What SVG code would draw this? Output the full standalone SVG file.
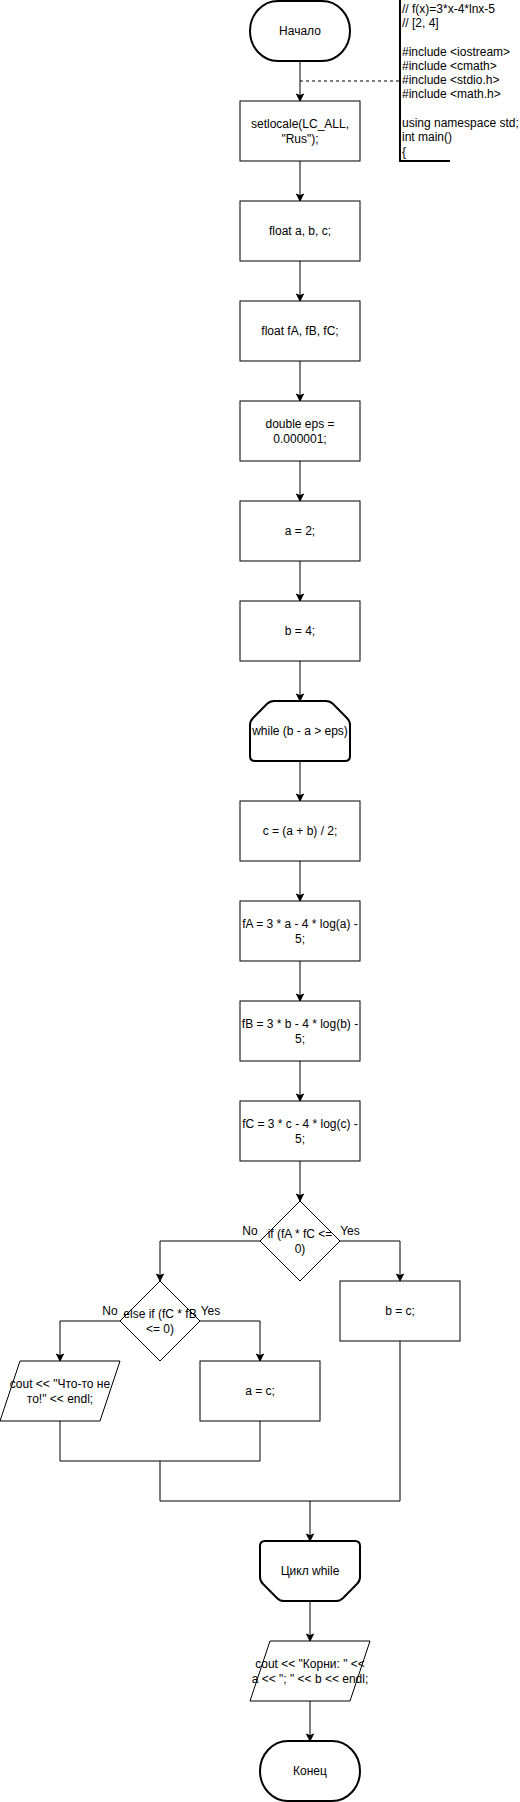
<svg xmlns="http://www.w3.org/2000/svg" width="520" height="1802" viewBox="0 0 520 1802">
<defs>
<style>
.s{fill:#fff;stroke:#000;stroke-width:1}
.t{fill:#fff;stroke:#000;stroke-width:2}
.e{fill:none;stroke:#000;stroke-width:1}
text{font-family:"Liberation Sans",Arial,sans-serif;font-size:12px;fill:#000}
.c{text-anchor:middle}
</style>
<marker id="arr" viewBox="-8 -5 10 10" markerWidth="10" markerHeight="10" refX="0" refY="0" orient="auto" markerUnits="userSpaceOnUse">
<path d="M-7,-3.5 L0,0 L-7,3.5 L-5.3,0 Z" fill="#000" stroke="#000" stroke-width="1"/>
</marker>
</defs>
<rect width="520" height="1802" fill="#fff"/>
<g id="connectors">
<path class="e" d="M300,61 V101" marker-end="url(#arr)"/>
<path class="e" d="M300,81 H399" stroke-dasharray="3 3"/>
<path class="e" d="M300,161 V201" marker-end="url(#arr)"/>
<path class="e" d="M300,261 V301" marker-end="url(#arr)"/>
<path class="e" d="M300,361 V401" marker-end="url(#arr)"/>
<path class="e" d="M300,461 V501" marker-end="url(#arr)"/>
<path class="e" d="M300,561 V601" marker-end="url(#arr)"/>
<path class="e" d="M300,661 V701" marker-end="url(#arr)"/>
<path class="e" d="M300,761 V801" marker-end="url(#arr)"/>
<path class="e" d="M300,861 V901" marker-end="url(#arr)"/>
<path class="e" d="M300,961 V1001" marker-end="url(#arr)"/>
<path class="e" d="M300,1061 V1101" marker-end="url(#arr)"/>
<path class="e" d="M300,1161 V1201" marker-end="url(#arr)"/>
<path class="e" d="M260,1241 H160 V1281" marker-end="url(#arr)"/>
<path class="e" d="M340,1241 H400 V1281" marker-end="url(#arr)"/>
<path class="e" d="M120,1321 H60 V1361" marker-end="url(#arr)"/>
<path class="e" d="M200,1321 H260 V1361" marker-end="url(#arr)"/>
<path class="e" d="M60,1421 V1461 H260 V1421"/>
<path class="e" d="M160,1461 V1501 H400 V1341"/>
<path class="e" d="M310,1501 V1541" marker-end="url(#arr)"/>
<path class="e" d="M310,1601 V1641" marker-end="url(#arr)"/>
<path class="e" d="M310,1701 V1741" marker-end="url(#arr)"/>
<text class="c" x="250" y="1235.3">No</text>
<text class="c" x="350" y="1235.3">Yes</text>
<text class="c" x="110" y="1315.3">No</text>
<text class="c" x="210.5" y="1315.3">Yes</text>
</g>
<g id="note">
<path d="M450,161 H400 V-2" fill="none" stroke="#000" stroke-width="2"/>
<text x="402" y="12.6">// f(x)=3*x-4*lnx-5</text>
<text x="402" y="26.9">// [2, 4]</text>
<text x="402" y="55.5">#include &lt;iostream&gt;</text>
<text x="402" y="69.8">#include &lt;cmath&gt;</text>
<text x="402" y="84.1">#include &lt;stdio.h&gt;</text>
<text x="402" y="98.4">#include &lt;math.h&gt;</text>
<text x="402" y="127">using namespace std;</text>
<text x="402" y="141.3">int main()</text>
<text x="402" y="155.6">{</text>
</g>
<g id="start">
<path class="t" d="M278,1 L322,1 A28,30 0 0 1 322,61 L278,61 A28,30 0 0 1 278,1 Z"/>
<text class="c" x="300" y="35.3">Начало</text>
</g>
<g id="setlocale">
<rect class="s" x="240" y="101" width="120" height="60"/>
<text class="c" x="300" y="127.8">setlocale(LC_ALL,</text>
<text class="c" x="300" y="142.8">"Rus");</text>
</g>
<g id="float_abc">
<rect class="s" x="240" y="201" width="120" height="60"/>
<text class="c" x="300" y="235.3">float a, b, c;</text>
</g>
<g id="float_f">
<rect class="s" x="240" y="301" width="120" height="60"/>
<text class="c" x="300" y="335.3">float fA, fB, fC;</text>
</g>
<g id="eps">
<rect class="s" x="240" y="401" width="120" height="60"/>
<text class="c" x="300" y="427.8">double eps =</text>
<text class="c" x="300" y="442.8">0.000001;</text>
</g>
<g id="a2">
<rect class="s" x="240" y="501" width="120" height="60"/>
<text class="c" x="300" y="535.3">a = 2;</text>
</g>
<g id="b4">
<rect class="s" x="240" y="601" width="120" height="60"/>
<text class="c" x="300" y="635.3">b = 4;</text>
</g>
<g id="while">
<path class="t" d="M274,701 L326,701 Q330,701 332.83,703.83 L347.17,718.17 Q350,721 350,725 L350,756 Q350,761 345,761 L255,761 Q250,761 250,756 L250,725 Q250,721 252.83,718.17 L267.17,703.83 Q270,701 274,701 Z"/>
<text class="c" x="300" y="735.3">while (b - a &gt; eps)</text>
</g>
<g id="c_calc">
<rect class="s" x="240" y="801" width="120" height="60"/>
<text class="c" x="300" y="835.3">c = (a + b) / 2;</text>
</g>
<g id="fA">
<rect class="s" x="240" y="901" width="120" height="60"/>
<text class="c" x="300" y="927.8">fA = 3 * a - 4 * log(a) -</text>
<text class="c" x="300" y="942.8">5;</text>
</g>
<g id="fB">
<rect class="s" x="240" y="1001" width="120" height="60"/>
<text class="c" x="300" y="1027.8">fB = 3 * b - 4 * log(b) -</text>
<text class="c" x="300" y="1042.8">5;</text>
</g>
<g id="fC">
<rect class="s" x="240" y="1101" width="120" height="60"/>
<text class="c" x="300" y="1127.8">fC = 3 * c - 4 * log(c) -</text>
<text class="c" x="300" y="1142.8">5;</text>
</g>
<g id="if1">
<path class="s" d="M300,1201 L340,1241 L300,1281 L260,1241 Z"/>
<text class="c" x="300" y="1237.8">if (fA * fC &lt;=</text>
<text class="c" x="300" y="1252.8">0)</text>
</g>
<g id="bc">
<rect class="s" x="340" y="1281" width="120" height="60"/>
<text class="c" x="400" y="1315.3">b = c;</text>
</g>
<g id="if2">
<path class="s" d="M160,1281 L200,1321 L160,1361 L120,1321 Z"/>
<text class="c" x="160" y="1317.8">else if (fC * fB</text>
<text class="c" x="160" y="1332.8">&lt;= 0)</text>
</g>
<g id="err">
<path class="s" d="M20,1361 L120,1361 L100,1421 L0,1421 Z"/>
<text class="c" x="60" y="1387.8">cout &lt;&lt; "Что-то не</text>
<text class="c" x="60" y="1402.8">то!" &lt;&lt; endl;</text>
</g>
<g id="ac">
<rect class="s" x="200" y="1361" width="120" height="60"/>
<text class="c" x="260" y="1395.3">a = c;</text>
</g>
<g id="loop_end">
<path class="t" d="M265,1541 L355,1541 Q360,1541 360,1546 L360,1577 Q360,1581 357.17,1583.83 L342.83,1598.17 Q340,1601 336,1601 L284,1601 Q280,1601 277.17,1598.17 L262.83,1583.83 Q260,1581 260,1577 L260,1546 Q260,1541 265,1541 Z"/>
<text class="c" x="310" y="1575.3">Цикл while</text>
</g>
<g id="out">
<path class="s" d="M270,1641 L370,1641 L350,1701 L250,1701 Z"/>
<text class="c" x="310" y="1667.8">cout &lt;&lt; "Корни: " &lt;&lt;</text>
<text class="c" x="310" y="1682.8">a &lt;&lt; "; " &lt;&lt; b &lt;&lt; endl;</text>
</g>
<g id="end">
<path class="t" d="M288,1741 L332,1741 A28,30 0 0 1 332,1801 L288,1801 A28,30 0 0 1 288,1741 Z"/>
<text class="c" x="310" y="1775.3">Конец</text>
</g>
</svg>
